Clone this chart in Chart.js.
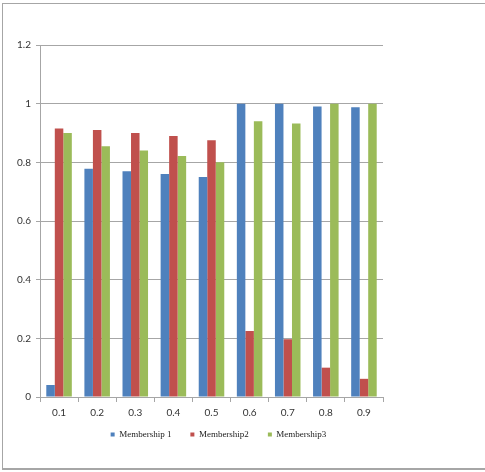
<!DOCTYPE html>
<html>
<head>
<meta charset="utf-8">
<script src="https://cdn.jsdelivr.net/npm/chart.js@4/dist/chart.umd.min.js"></script>
<style>
    html, body { margin: 0; padding: 0; background: #fff; }
    #wrap { position: relative; width: 485px; height: 472px; }
    #frame {
        position: absolute; left: 2px; top: 3px; width: 490px; height: 464px;
        border-top: 1px solid #a6a6a6; border-left: 1px solid #a6a6a6; border-bottom: 2px solid #a6a6a6;
    }
    canvas { position: absolute; left: 0; top: 0; }
</style>
</head>
<body>
<div id="wrap">
    <div id="frame"></div>
    <canvas id="chart"></canvas>
</div>
<script>
// categories and series
const categories = ["0.1", "0.2", "0.3", "0.4", "0.5", "0.6", "0.7", "0.8", "0.9"];
const membership1 = [0.041, 0.778, 0.77, 0.76, 0.75, 1.0, 1.0, 0.99, 0.988];
const membership2 = [0.915, 0.91, 0.9, 0.89, 0.875, 0.225, 0.197, 0.1, 0.062];
const membership3 = [0.9, 0.855, 0.84, 0.822, 0.8, 0.94, 0.932, 1.0, 1.0];
const seriesNames = ["Membership 1", "Membership2", "Membership3"];

const gridColor = "#a6a6a6";

new Chart(document.getElementById("chart"), {
    type: "bar",
    data: {
        labels: categories,
        datasets: [
            { label: seriesNames[0], data: membership1, backgroundColor: "#4f81bd" },
            { label: seriesNames[1], data: membership2, backgroundColor: "#c0504d" },
            { label: seriesNames[2], data: membership3, backgroundColor: "#9bbb59" }
        ]
    },
    options: {
        responsive: true,
        maintainAspectRatio: false,
        animation: false,
        datasets: {
            bar: { categoryPercentage: 0.67, barPercentage: 1.0 }
        },
        layout: {
            padding: { top: 45, right: 48, left: 0, bottom: 15 }
        },
        scales: {
            x: {
                grid: {
                    offset: true,
                    drawOnChartArea: false,
                    drawTicks: true,
                    tickLength: 5,
                    color: gridColor
                },
                border: { color: gridColor, width: 1 },
                ticks: {
                    color: "#333",
                    font: { family: "Lato", size: 10 },
                    padding: 5
                },
                afterFit(scale) { scale.height = 22; }
            },
            y: {
                min: 0,
                max: 1.2,
                ticks: {
                    stepSize: 0.2,
                    color: "#333",
                    font: { family: "Lato", size: 10 },
                    padding: 5,
                    callback: (value) => String(Number(value.toFixed(2)))
                },
                grid: {
                    color: gridColor,
                    tickLength: 4
                },
                border: { color: gridColor, width: 1 },
                afterFit(scale) { scale.width = 40; }
            },
            // empty space on the right so the legend centres like the original
            spacer: {
                type: "linear",
                position: "right",
                display: true,
                grid: { display: false },
                border: { display: false },
                ticks: { display: false },
                afterFit(scale) { scale.width = 54; }
            }
        },
        plugins: {
            legend: {
                position: "bottom",
                labels: {
                    boxWidth: 4,
                    boxHeight: 4,
                    padding: 19,
                    color: "#222",
                    font: { family: "Liberation Serif", size: 9 }
                }
            },
            tooltip: { enabled: false }
        }
    },
    plugins: [{
        // pull the legend a little closer to the axis labels
        id: "legendNudge",
        afterLayout(chart) {
            chart.legend.top -= 8;
            chart.legend.bottom -= 8;
        }
    }]
});
</script>
</body>
</html>
